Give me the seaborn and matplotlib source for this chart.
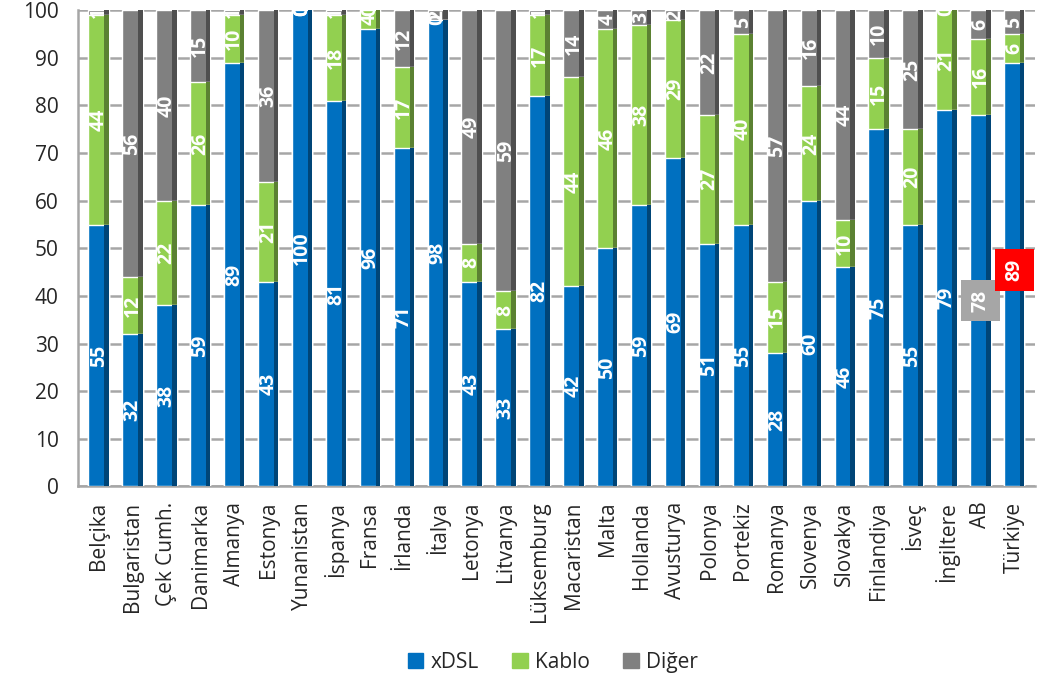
import numpy as np
import pandas as pd
import matplotlib
matplotlib.use("Agg")
import matplotlib.pyplot as plt
import seaborn as sns
from matplotlib.patches import Patch

# data
countries = ["Belçika", "Bulgaristan", "Çek Cumh.", "Danimarka", "Almanya", "Estonya",
             "Yunanistan", "İspanya", "Fransa", "İrlanda", "İtalya", "Letonya", "Litvanya",
             "Lüksemburg", "Macaristan", "Malta", "Hollanda", "Avusturya", "Polonya",
             "Portekiz", "Romanya", "Slovenya", "Slovakya", "Finlandiya", "İsveç",
             "İngiltere", "AB", "Türkiye"]
xdsl = [55, 32, 38, 59, 89, 43, 100, 81, 96, 71, 98, 43, 33, 82, 42, 50, 59, 69, 51, 55,
        28, 60, 46, 75, 55, 79, 78, 89]
kablo = [44, 12, 22, 26, 10, 21, 0, 18, 4, 17, 0, 8, 8, 17, 44, 46, 38, 29, 27, 40,
         15, 24, 10, 15, 20, 21, 16, 6]
diger = [1, 56, 40, 15, 1, 36, 0, 1, 0, 12, 2, 49, 59, 1, 14, 4, 3, 2, 22, 5,
         57, 16, 44, 10, 25, 0, 6, 5]

c_blue = "#0070C0"
c_green = "#92D050"
c_gray = "#808080"

df = pd.DataFrame({"country": countries, "xDSL": xdsl, "Kablo": kablo, "Diğer": diger})
df["l1"] = df["xDSL"]
df["l2"] = df["xDSL"] + df["Kablo"]
df["l3"] = df["l2"] + df["Diğer"]

sns.set_style("white")
plt.rcParams["font.family"] = ["Open Sans", "DejaVu Sans"]

fig, ax = plt.subplots(figsize=(10.43, 6.85), dpi=100)
fig.subplots_adjust(left=0.075, right=0.992, top=0.985, bottom=0.29)

ax.yaxis.grid(True, color="#A6A6A6", linewidth=1.8)
ax.set_axisbelow(True)

w = 0.6
sns.barplot(data=df, x="country", y="l3", color=c_gray, width=w, saturation=1, ax=ax, zorder=2)
sns.barplot(data=df, x="country", y="l2", color=c_green, width=w, saturation=1, ax=ax, zorder=3)
sns.barplot(data=df, x="country", y="l1", color=c_blue, width=w, saturation=1, ax=ax, zorder=4)

# darker right side to hint at the 3D look
for p in ax.patches:
    fc = np.array(matplotlib.colors.to_rgb(p.get_facecolor())) * 0.62
    ax.add_patch(plt.Rectangle((p.get_x() + p.get_width() * 0.78, p.get_y()),
                               p.get_width() * 0.22, p.get_height(),
                               color=fc, zorder=p.get_zorder(), lw=0))

# value labels
lbl = dict(rotation=90, ha="center", va="center", color="white",
           fontsize=14, fontweight="bold", zorder=6)
for i in range(len(df)):
    a, b, c = xdsl[i], kablo[i], diger[i]
    if countries[i] == "AB":
        ax.text(i, 39, str(a),
                bbox=dict(boxstyle="square,pad=0.5", fc="#A6A6A6", ec="none"), **lbl)
    elif countries[i] == "Türkiye":
        ax.text(i, 45.5, str(a),
                bbox=dict(boxstyle="square,pad=0.5", fc="#FF0000", ec="none"), **lbl)
    else:
        ax.text(i, a / 2, str(a), **lbl)
    ax.text(i, a + b / 2, str(b), **lbl)
    ax.text(i, a + b + c / 2, str(c), **lbl)

ax.set_ylim(0, 100)
ax.set_xlim(-0.6, len(df) - 0.4)
ax.set_yticks(range(0, 101, 10))
ax.set_xlabel("")
ax.set_ylabel("")
ax.tick_params(axis="y", labelsize=15, length=6, width=1.5, color="#A6A6A6", pad=8)
ax.tick_params(axis="x", labelsize=15, rotation=90, length=5, width=1.5, color="#A6A6A6", pad=6)
for s in ["top", "right"]:
    ax.spines[s].set_visible(False)
for s in ["left", "bottom"]:
    ax.spines[s].set_color("#A6A6A6")
    ax.spines[s].set_linewidth(1.8)

handles = [Patch(color=c_blue, label="xDSL"), Patch(color=c_green, label="Kablo"),
           Patch(color=c_gray, label="Diğer")]
fig.legend(handles=handles, loc="lower center", ncol=3, frameon=False, fontsize=15,
           bbox_to_anchor=(0.53, -0.01), handlelength=0.75, handleheight=0.75,
           handletextpad=0.35, columnspacing=1.6)

fig.savefig("out.png", dpi=100)
